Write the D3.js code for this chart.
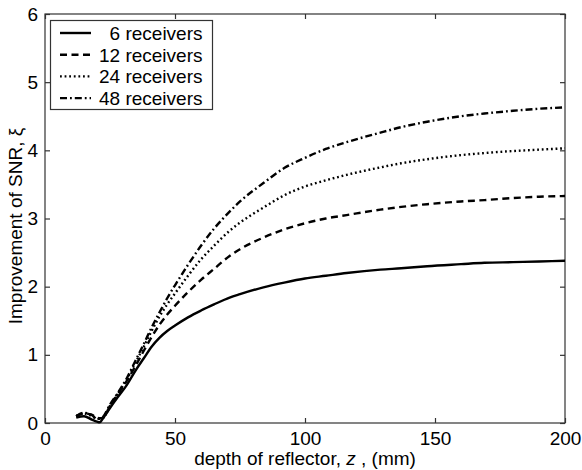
<!DOCTYPE html>
<html><head><meta charset="utf-8">
<script src="https://cdn.jsdelivr.net/npm/d3@7"></script>
<style>body{margin:0;background:#fff}svg{display:block}text{font-family:"Liberation Sans",Arial,sans-serif;fill:#000}</style>
</head><body><svg id="c" width="582" height="470"></svg>
<script>
const xTicks=[0,50,100,150,200];
const yTicks=[0,1,2,3,4,5,6];
const seriesNames=["6 receivers","12 receivers","24 receivers","48 receivers"];
const z=[12,15,18,20,21,22.5,25,28,31.5,35,38,41,44,47,50,55,60,65,71,75,84,92,100,108,116,129,137,147,160,169,180,190,200];
const snr6 =[0.08,0.10,0.05,0.02,0.01,0.08,0.22,0.38,0.56,0.78,0.95,1.12,1.25,1.35,1.43,1.55,1.65,1.74,1.84,1.89,1.99,2.06,2.12,2.16,2.20,2.25,2.27,2.30,2.33,2.35,2.36,2.37,2.38];
const snr12=[0.10,0.14,0.12,0.08,0.07,0.08,0.25,0.42,0.62,0.85,1.06,1.26,1.44,1.59,1.72,1.92,2.10,2.26,2.45,2.55,2.72,2.84,2.93,3.00,3.05,3.13,3.17,3.21,3.25,3.27,3.30,3.32,3.33];
const snr24=[0.10,0.14,0.10,0.06,0.06,0.08,0.25,0.43,0.64,0.90,1.12,1.35,1.56,1.74,1.90,2.16,2.40,2.60,2.82,2.94,3.16,3.34,3.47,3.56,3.64,3.75,3.81,3.87,3.93,3.96,3.99,4.01,4.03];
const snr48=[0.10,0.15,0.12,0.06,0.06,0.10,0.27,0.44,0.66,0.93,1.16,1.40,1.62,1.83,2.02,2.32,2.60,2.85,3.10,3.25,3.52,3.74,3.89,4.02,4.12,4.26,4.34,4.42,4.50,4.54,4.58,4.61,4.63];
const allSeries=[snr6,snr12,snr24,snr48];
const dashes=[null,"7,4.5","1.8,2.8","7,3,1.8,3"];

const svg=d3.select("#c");
const L=45,R=565,T=14,B=423;
const x=d3.scaleLinear().domain([0,200]).range([L,R]);
const y=d3.scaleLinear().domain([0,6]).range([B,T]);
const fs=19;
const fmt=d3.format("d");

svg.append("rect").attr("x",L).attr("y",T).attr("width",R-L).attr("height",B-T)
  .attr("fill","none").attr("stroke","#333").attr("stroke-width",1.2);

const gx=svg.append("g").attr("transform",`translate(0,${B})`)
  .call(d3.axisBottom(x).tickValues(xTicks).tickFormat(fmt).tickSizeInner(-5).tickSizeOuter(0).tickPadding(9));
const gxt=svg.append("g").attr("transform",`translate(0,${T})`)
  .call(d3.axisTop(x).tickValues(xTicks).tickSizeInner(-5).tickSizeOuter(0).tickFormat(""));
const gy=svg.append("g").attr("transform",`translate(${L},0)`)
  .call(d3.axisLeft(y).tickValues(yTicks).tickFormat(fmt).tickSizeInner(-5).tickSizeOuter(0).tickPadding(7));
const gyr=svg.append("g").attr("transform",`translate(${R},0)`)
  .call(d3.axisRight(y).tickValues(yTicks).tickSizeInner(-5).tickSizeOuter(0).tickFormat(""));
[gx,gxt,gy,gyr].forEach(g=>{
  g.select(".domain").remove();
  g.selectAll("line").attr("stroke","#333").attr("stroke-width",1.2);
  g.selectAll("text").attr("font-size",fs).attr("font-family","Liberation Sans, Arial, sans-serif").attr("fill","#000");
});

const line=d3.line().x((d,i)=>x(z[i])).y(d=>y(d)).curve(d3.curveMonotoneX);
allSeries.forEach((s,k)=>{
  svg.append("path").datum(s).attr("d",line).attr("fill","none")
    .attr("stroke","#000").attr("stroke-width",2.4)
    .attr("stroke-dasharray",dashes[k]);
});

const xl=svg.append("text").attr("x",(L+R)/2).attr("y",465).attr("text-anchor","middle").attr("font-size",fs);
xl.append("tspan").text("depth of reflector, ");
xl.append("tspan").attr("font-style","italic").text("z");
xl.append("tspan").text(" , (mm)");
svg.append("text").attr("transform","translate(22,226) rotate(-90)").attr("text-anchor","middle")
  .attr("font-size",fs).text("Improvement of SNR, ξ");

const lg=svg.append("g");
lg.append("rect").attr("x",50.5).attr("y",20.5).attr("width",162).attr("height",89)
  .attr("fill","#fff").attr("stroke","#333").attr("stroke-width",1.2);
seriesNames.forEach((n,k)=>{
  const yy=33+k*21.7;
  lg.append("line").attr("x1",60).attr("x2",91).attr("y1",yy).attr("y2",yy)
    .attr("stroke","#000").attr("stroke-width",2.4).attr("stroke-dasharray",dashes[k]);
  const t=lg.append("text").attr("x",99).attr("y",yy+7).attr("font-size",fs).text(n);
  if(n.split(" ")[0].length<2){
    const w=lg.append("text").attr("font-size",fs).text("0");
    const dw=w.node().getComputedTextLength(); w.remove();
    t.attr("x",99+dw);
  }
});
</script></body></html>
